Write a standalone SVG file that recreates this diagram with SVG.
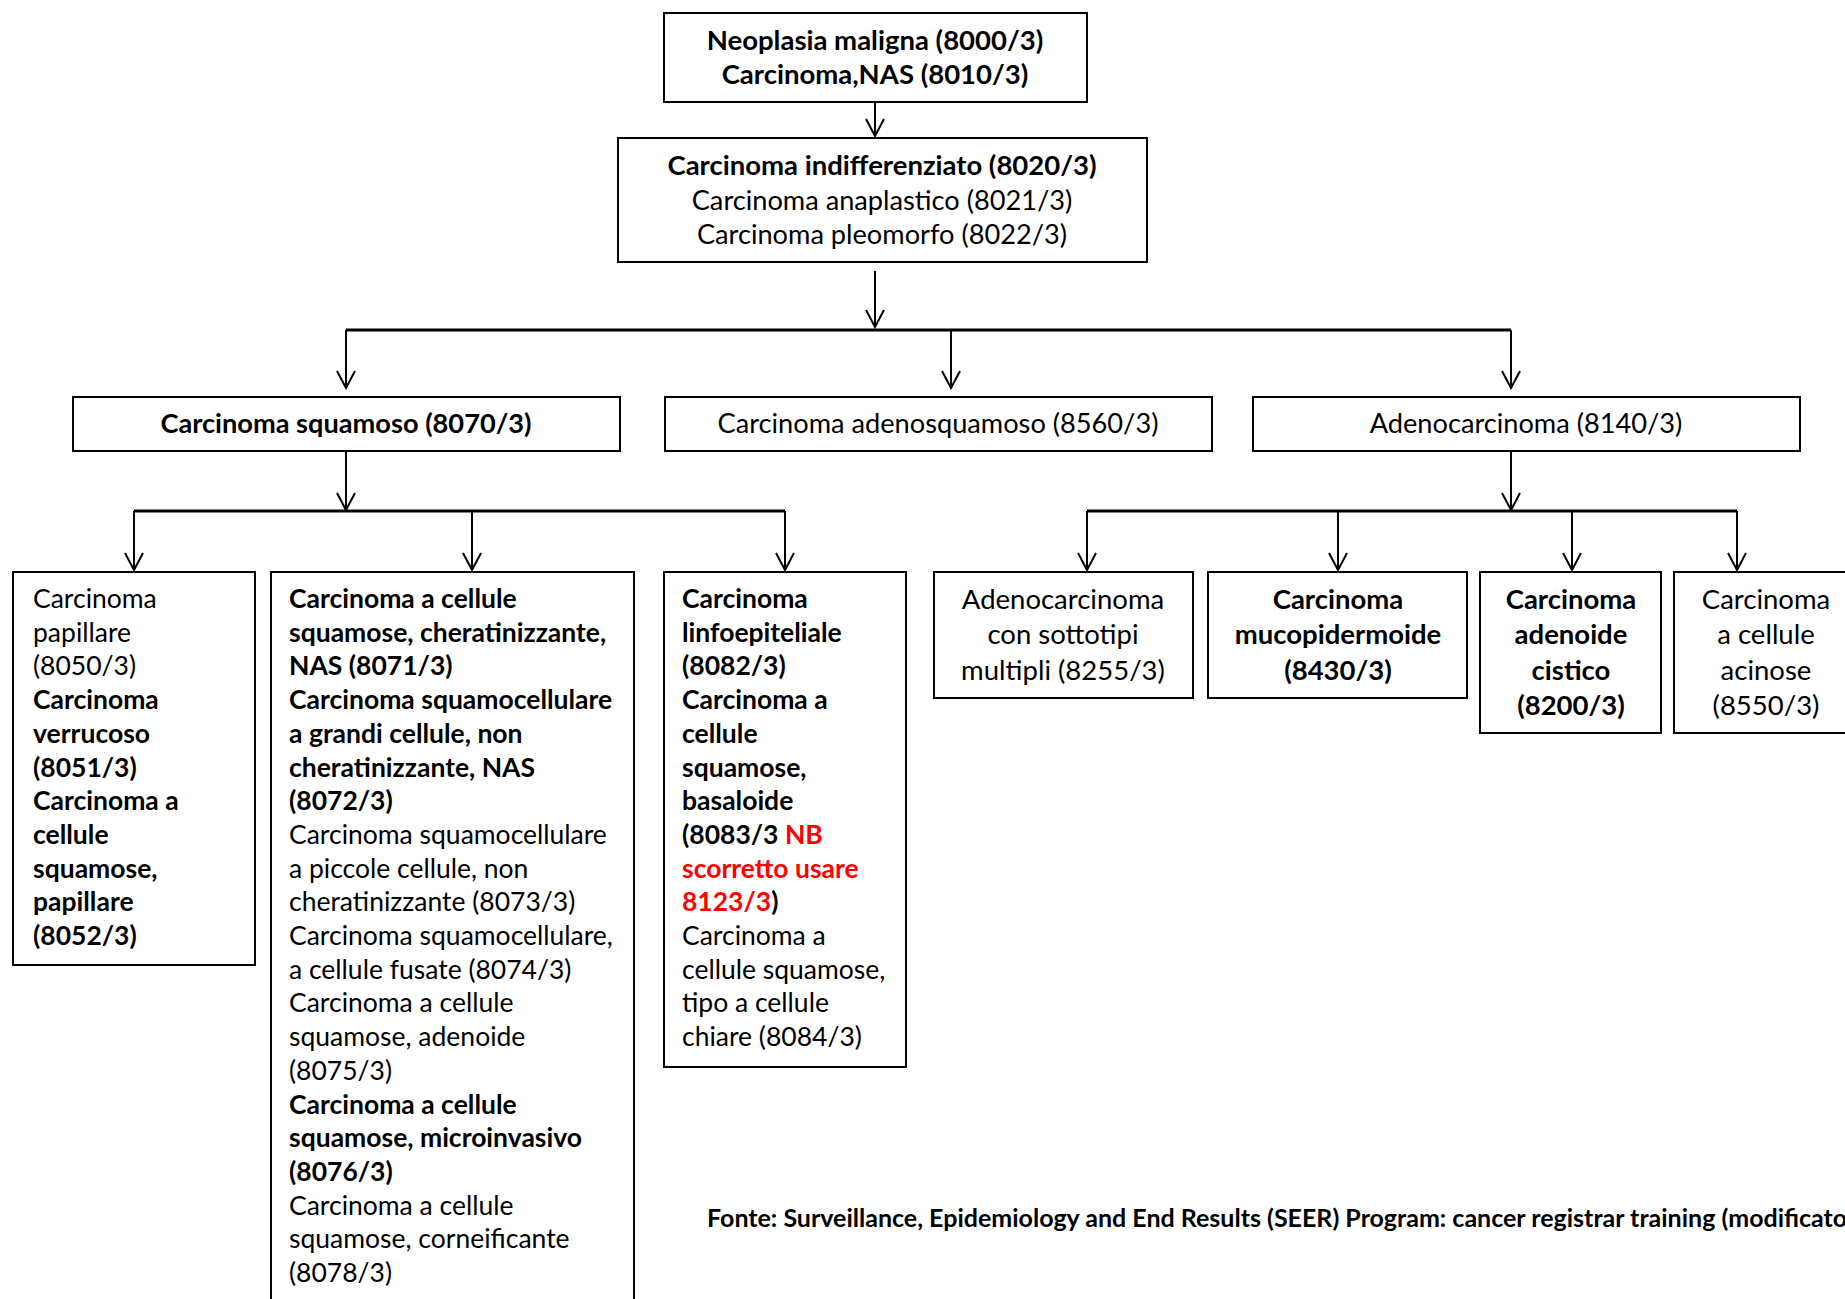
<svg xmlns="http://www.w3.org/2000/svg" width="1845" height="1299" viewBox="0 0 1845 1299">
<style>
text{font-family:Lato,"Carlito","Liberation Sans",sans-serif;font-size:26.5px;fill:#000}
.b{font-weight:bold}
.c{text-anchor:middle}
.red{fill:#ff0000}
.big{font-size:27.5px}
.mid{font-size:27.2px}
.box{fill:#fff;stroke:#000;stroke-width:2}
.ln{fill:none;stroke:#000;stroke-width:2}
.bus{fill:none;stroke:#000;stroke-width:3}
.foot{font-size:25px;font-weight:bold}
</style>
<defs>
<marker id="arr" markerWidth="20" markerHeight="24" refX="18" refY="12" orient="auto" markerUnits="userSpaceOnUse">
<path d="M1,3 L18,12 L1,21" fill="none" stroke="#000" stroke-width="2"/>
</marker>
</defs>
<rect width="1845" height="1299" fill="#fff"/>
<g id="connectors">
<line class="ln" x1="875" y1="103" x2="875" y2="136" marker-end="url(#arr)"/>
<line class="ln" x1="875" y1="271" x2="875" y2="327" marker-end="url(#arr)"/>
<line class="bus" x1="346" y1="330" x2="1511" y2="330"/>
<line class="ln" x1="346" y1="330" x2="346" y2="388" marker-end="url(#arr)"/>
<line class="ln" x1="951" y1="330" x2="951" y2="388" marker-end="url(#arr)"/>
<line class="ln" x1="1511" y1="330" x2="1511" y2="388" marker-end="url(#arr)"/>
<line class="ln" x1="346" y1="452" x2="346" y2="510" marker-end="url(#arr)"/>
<line class="bus" x1="134" y1="511" x2="785" y2="511"/>
<line class="ln" x1="134" y1="511" x2="134" y2="570" marker-end="url(#arr)"/>
<line class="ln" x1="472" y1="511" x2="472" y2="570" marker-end="url(#arr)"/>
<line class="ln" x1="785" y1="511" x2="785" y2="570" marker-end="url(#arr)"/>
<line class="ln" x1="1511" y1="452" x2="1511" y2="510" marker-end="url(#arr)"/>
<line class="bus" x1="1087" y1="511" x2="1737" y2="511"/>
<line class="ln" x1="1087" y1="511" x2="1087" y2="570" marker-end="url(#arr)"/>
<line class="ln" x1="1338" y1="511" x2="1338" y2="570" marker-end="url(#arr)"/>
<line class="ln" x1="1572" y1="511" x2="1572" y2="570" marker-end="url(#arr)"/>
<line class="ln" x1="1737" y1="511" x2="1737" y2="570" marker-end="url(#arr)"/>
</g>
<g id="n-neoplasia">
<rect class="box" x="664" y="13" width="423" height="89"/>
<text class="b c big" x="875" y="50">Neoplasia maligna (8000/3)</text>
<text class="b c big" x="875" y="84">Carcinoma,NAS (8010/3)</text>
</g>
<g id="n-indiff">
<rect class="box" x="618" y="138" width="529" height="124"/>
<text class="b c big" x="882" y="175">Carcinoma indifferenziato (8020/3)</text>
<text class="c mid" x="882" y="210">Carcinoma anaplastico (8021/3)</text>
<text class="c mid" x="882" y="244">Carcinoma pleomorfo (8022/3)</text>
</g>
<g id="n-squamoso">
<rect class="box" x="73" y="397" width="547" height="54"/>
<text class="b c mid" x="346" y="433">Carcinoma squamoso (8070/3)</text>
</g>
<g id="n-adenosquamoso">
<rect class="box" x="665" y="397" width="547" height="54"/>
<text class="c mid" x="938" y="433">Carcinoma adenosquamoso (8560/3)</text>
</g>
<g id="n-adeno">
<rect class="box" x="1253" y="397" width="547" height="54"/>
<text class="c mid" x="1526" y="433">Adenocarcinoma (8140/3)</text>
</g>
<g id="n-papillare">
<rect class="box" x="13" y="572" width="242" height="393"/>
<text x="33" y="608">Carcinoma</text>
<text x="33" y="641.7">papillare</text>
<text x="33" y="675.4">(8050/3)</text>
<text class="b" x="33" y="709.1">Carcinoma</text>
<text class="b" x="33" y="742.8">verrucoso</text>
<text class="b" x="33" y="776.5">(8051/3)</text>
<text class="b" x="33" y="810.2">Carcinoma a</text>
<text class="b" x="33" y="843.9">cellule</text>
<text class="b" x="33" y="877.6">squamose,</text>
<text class="b" x="33" y="911.3">papillare</text>
<text class="b" x="33" y="945">(8052/3)</text>
</g>
<g id="n-cheratinizzante">
<rect class="box" x="271" y="572" width="363" height="740"/>
<text class="b" x="289" y="608">Carcinoma a cellule</text>
<text class="b" x="289" y="641.7">squamose, cheratinizzante,</text>
<text class="b" x="289" y="675.4">NAS (8071/3)</text>
<text class="b" x="289" y="709.1">Carcinoma squamocellulare</text>
<text class="b" x="289" y="742.8">a grandi cellule, non</text>
<text class="b" x="289" y="776.5">cheratinizzante, NAS</text>
<text class="b" x="289" y="810.2">(8072/3)</text>
<text x="289" y="843.9">Carcinoma squamocellulare</text>
<text x="289" y="877.6">a piccole cellule, non</text>
<text x="289" y="911.3">cheratinizzante (8073/3)</text>
<text x="289" y="945">Carcinoma squamocellulare,</text>
<text x="289" y="978.7">a cellule fusate (8074/3)</text>
<text x="289" y="1012.4">Carcinoma a cellule</text>
<text x="289" y="1046.1">squamose, adenoide</text>
<text x="289" y="1079.8">(8075/3)</text>
<text class="b" x="289" y="1113.5">Carcinoma a cellule</text>
<text class="b" x="289" y="1147.2">squamose, microinvasivo</text>
<text class="b" x="289" y="1180.9">(8076/3)</text>
<text x="289" y="1214.6">Carcinoma a cellule</text>
<text x="289" y="1248.3">squamose, corneificante</text>
<text x="289" y="1282">(8078/3)</text>
</g>
<g id="n-linfoepiteliale">
<rect class="box" x="664" y="572" width="242" height="495"/>
<text class="b" x="682" y="608">Carcinoma</text>
<text class="b" x="682" y="641.7">linfoepiteliale</text>
<text class="b" x="682" y="675.4">(8082/3)</text>
<text class="b" x="682" y="709.1">Carcinoma a</text>
<text class="b" x="682" y="742.8">cellule</text>
<text class="b" x="682" y="776.5">squamose,</text>
<text class="b" x="682" y="810.2">basaloide</text>
<text class="b" x="682" y="843.9">(8083/3 <tspan class="red">NB</tspan></text>
<text class="b red" x="682" y="877.6">scorretto usare</text>
<text class="b" x="682" y="911.3"><tspan class="red">8123/3</tspan>)</text>
<text x="682" y="945">Carcinoma a</text>
<text x="682" y="978.7">cellule squamose,</text>
<text x="682" y="1012.4">tipo a cellule</text>
<text x="682" y="1046.1">chiare (8084/3)</text>
</g>
<g id="n-sottotipi">
<rect class="box" x="934" y="572" width="259" height="126"/>
<text class="c big" x="1063" y="609">Adenocarcinoma</text>
<text class="c big" x="1063" y="644">con sottotipi</text>
<text class="c big" x="1063" y="680">multipli (8255/3)</text>
</g>
<g id="n-mucopidermoide">
<rect class="box" x="1208" y="572" width="259" height="126"/>
<text class="b c big" x="1338" y="609">Carcinoma</text>
<text class="b c big" x="1338" y="644">mucopidermoide</text>
<text class="b c big" x="1338" y="680">(8430/3)</text>
</g>
<g id="n-cistico">
<rect class="box" x="1480" y="572" width="181" height="161"/>
<text class="b c big" x="1571" y="609">Carcinoma</text>
<text class="b c big" x="1571" y="644">adenoide</text>
<text class="b c big" x="1571" y="680">cistico</text>
<text class="b c big" x="1571" y="715">(8200/3)</text>
</g>
<g id="n-acinose">
<rect class="box" x="1674" y="572" width="200" height="161"/>
<text class="c big" x="1766" y="609">Carcinoma</text>
<text class="c big" x="1766" y="644">a cellule</text>
<text class="c big" x="1766" y="680">acinose</text>
<text class="c big" x="1766" y="715">(8550/3)</text>
</g>
<g id="footer">
<text class="foot" x="707" y="1227">Fonte: Surveillance, Epidemiology and End Results (SEER) Program: cancer registrar training (modificato)</text>
</g>
</svg>
